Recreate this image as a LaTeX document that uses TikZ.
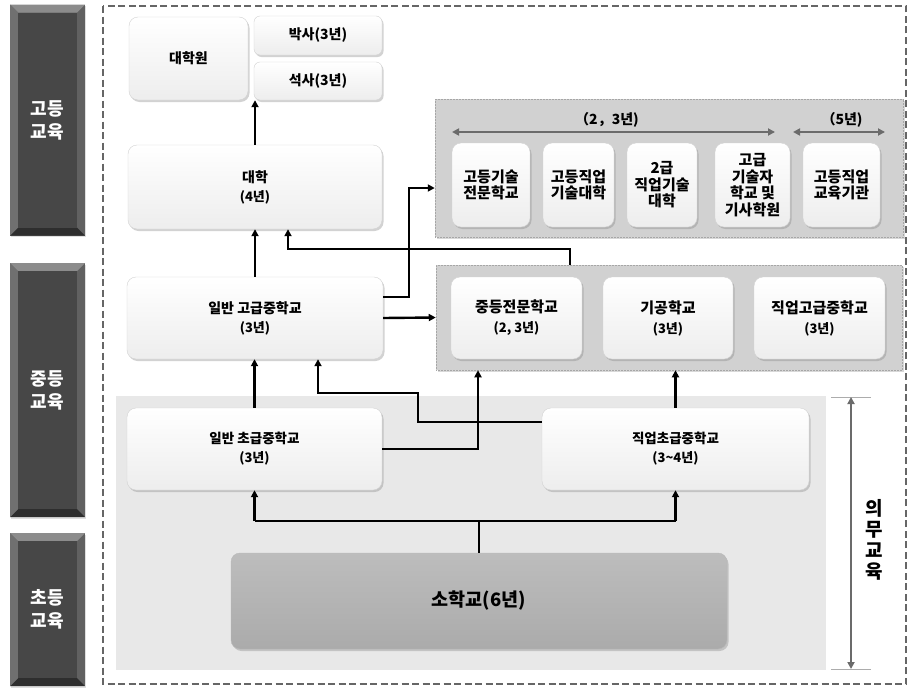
\documentclass[tikz,border=0pt]{standalone}
\usepackage{fontspec}
\setmainfont{Noto Sans CJK KR}
\usetikzlibrary{arrows.meta,shadows,calc}
\newcommand\yrs[1]{{\fontsize{13}{17}\selectfont #1}}
\begin{document}
\begin{tikzpicture}[x=1pt,y=-1pt,
  box/.style={draw=gray!35, line width=0.4pt, rounded corners=9pt, top color=white, bottom color=gray!14,
    drop shadow={opacity=0.35, shadow xshift=1.5pt, shadow yshift=-2pt},
    align=center, inner sep=0pt, font=\bfseries\fontsize{14}{19}\selectfont},
  hbox/.style={box, minimum height=84pt, font=\bfseries\fontsize{15}{16.5}\selectfont},
  mbox/.style={box, minimum height=82pt},
  gbox/.style={mbox, font=\bfseries\fontsize{15}{20}\selectfont},
  grp/.style={draw=gray!70, densely dotted, line width=0.5pt, fill=gray!36, inner sep=0pt,
    drop shadow={opacity=0.3, shadow xshift=1.5pt, shadow yshift=-1.5pt}},
  bar/.style={fill=black!62, text=white, font=\bfseries\fontsize{18}{23}\selectfont, align=center,
    minimum width=75pt, inner sep=0pt,
    drop shadow={opacity=0.25, shadow xshift=1pt, shadow yshift=-1.5pt},
    path picture={
      \fill[black!45] (path picture bounding box.north west) -- (path picture bounding box.north east)
        -- ([shift={(-8pt,-8pt)}]path picture bounding box.north east) -- ([shift={(8pt,-8pt)}]path picture bounding box.north west) -- cycle;
      \fill[black!82] (path picture bounding box.south west) -- (path picture bounding box.south east)
        -- ([shift={(-8pt,8pt)}]path picture bounding box.south east) -- ([shift={(8pt,8pt)}]path picture bounding box.south west) -- cycle;
      \fill[black!56] (path picture bounding box.north west) -- ([shift={(8pt,-8pt)}]path picture bounding box.north west)
        -- ([shift={(8pt,8pt)}]path picture bounding box.south west) -- (path picture bounding box.south west) -- cycle;
      \fill[black!72] ([shift={(8pt,-8pt)}]path picture bounding box.north west) rectangle ([shift={(-8pt,8pt)}]path picture bounding box.south east);
    }},
  conn/.style={line width=2.4pt, black},
  arr/.style={conn, -{Triangle[length=7pt,width=7pt]}},
  darr/.style={line width=1.8pt, black!58, {Triangle[length=7pt,width=7pt]}-{Triangle[length=7pt,width=7pt]}},
  lbl/.style={font=\bfseries\fontsize{14}{16}\selectfont, inner sep=0pt}
]
\useasboundingbox (0,0) rectangle (910,688);
\fill[white] (0,0) rectangle (910,688);

% left category bars
\node[bar, minimum height=231pt] (lb1) at (47.5,120) {고등\\교육};
\node[bar, minimum height=254pt] (lb2) at (47.5,390) {중등\\교육};
\node[bar, minimum height=153pt] (lb3) at (47.5,609.5) {초등\\교육};

% outer dashed frame
\draw[black!60, line width=2pt, dash pattern=on 7pt off 3.5pt] (103,6) rectangle (906,684);

% compulsory education zone
\node[fill=gray!18, inner sep=0pt, minimum width=710pt, minimum height=274pt] (cz) at (471,533) {};

% groups
\node[grp, minimum width=468pt, minimum height=138pt] (hg) at (669,168) {};
\node[grp, minimum width=466pt, minimum height=105pt] (mg) at (669,317.5) {};

% higher education
\node[box, minimum width=119pt, minimum height=83pt] (gs) at (188.5,58.5) {대학원};
\node[box, rounded corners=6pt, minimum width=128pt, minimum height=39pt] (phd) at (318,35.5) {박사(3년)};
\node[box, rounded corners=6pt, minimum width=128pt, minimum height=38pt] (mas) at (318,81) {석사(3년)};
\node[box, minimum width=254pt, minimum height=84pt] (uni) at (255,187) {대학\\\yrs{(4년)}};

\node[lbl] (l23) at (607,120) {（2，3년)};
\node[lbl] (l5) at (842,120) {（5년)};
\coordinate (a1) at (452,132);
\coordinate (a2) at (775,132);
\coordinate (a3) at (793,132);
\coordinate (a4) at (885,132);
\draw[darr] (a1) -- (a2);
\draw[darr] (a3) -- (a4);

\node[hbox, minimum width=78pt] (h1) at (491,185) {고등기술\\전문학교};
\node[hbox, minimum width=71pt] (h2) at (578.5,185) {고등직업\\기술대학};
\node[hbox, minimum width=70pt] (h3) at (662,185) {2급\\직업기술\\대학};
\node[hbox, minimum width=75pt] (h4) at (752.5,185) {고급\\기술자\\학교 및\\기사학원};
\node[hbox, minimum width=77pt] (h5) at (841.5,185) {고등직업\\교육기관};

% secondary
\node[mbox, minimum width=256pt] (ig) at (255,318) {일반 고급중학교\\\yrs{(3년)}};
\node[gbox, minimum width=131pt] (m1) at (516.5,318) {중등전문학교\\\yrs{(2, 3년)}};
\node[gbox, minimum width=130pt] (m2) at (668,318) {기공학교\\\yrs{(3년)}};
\node[gbox, minimum width=131pt] (m3) at (819.5,318) {직업고급중학교\\\yrs{(3년)}};

\node[mbox, minimum width=255pt, font=\bfseries\fontsize{13.5}{19}\selectfont] (ic) at (254.5,449) {일반 초급중학교\\\yrs{(3년)}};
\node[mbox, minimum width=267pt, font=\bfseries\fontsize{13.5}{19}\selectfont] (jc) at (675.5,449) {직업초급중학교\\\yrs{(3\textasciitilde4년)}};

% primary
\node[box, draw=gray!55, top color=gray!52, bottom color=gray!66, minimum width=496pt, minimum height=96pt,
  font=\bfseries\fontsize{18.5}{22}\selectfont] (so) at (479,601) {소학교(6년)};

% compulsory marker
\coordinate (ct) at (851,397);
\coordinate (cb) at (851,669);
\draw[gray!65, line width=0.8pt] ([xshift=-20pt]ct) -- ([xshift=20pt]ct);
\draw[gray!65, line width=0.8pt] ([xshift=-20pt]cb) -- ([xshift=20pt]cb);
\draw[darr, line width=2pt] (ct) -- (cb);
\node[font=\bfseries\fontsize{19}{21}\selectfont, align=center, inner sep=0pt] (cl) at (874,540) {의\\무\\교\\육};

% connectors
\draw[conn] (so.north) -- (so.north |- 0,521);
\draw[conn] (ic.south |- 0,521) -- (jc.south |- 0,521);
\draw[arr] (ic.south |- 0,521) -- (ic.south);
\draw[arr] (jc.south |- 0,521) -- (jc.south);

\draw[arr] (ic.north) -- (ic.north |- ig.south);
\draw[arr] (jc.west |- 0,422) -| (418,393) -| (ig.south -| 318,0);
\draw[arr] (ic.east) -| (mg.south -| 478,0);
\draw[arr] (jc.north) -- (jc.north |- mg.south);

\draw[arr] (ig.east) -- (mg.west);
\draw[arr] (ig.east |- 0,297) -| (409,188) -- (hg.west |- 0,188);
\draw[arr] (mg.north -| 570,0) |- (288,249) -- (uni.south -| 288,0);
\draw[arr] (ig.north) -- (ig.north |- uni.south);
\draw[arr] (uni.north) -- (uni.north |- mas.south);
\end{tikzpicture}
\end{document}
